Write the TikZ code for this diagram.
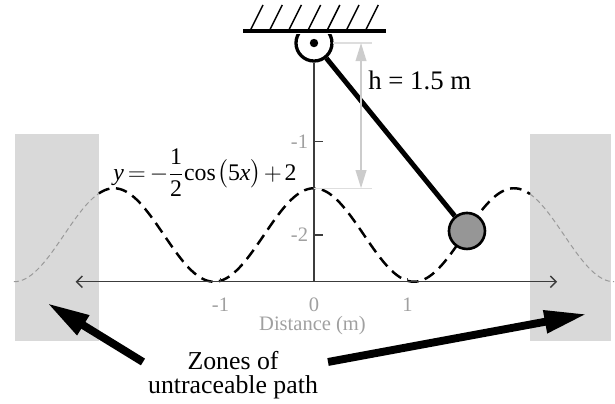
\documentclass[tikz,border=0pt]{standalone}
\usepackage{amsmath}
\usepackage{fontspec}
\setmainfont{Liberation Serif}
\definecolor{pdzone}{RGB}{217,217,217}
\definecolor{pddim}{RGB}{204,204,204}
\definecolor{pdext}{RGB}{222,222,222}
\definecolor{pdlabel}{RGB}{160,160,160}
\definecolor{pdbob}{RGB}{150,150,150}
\definecolor{pdaxis}{RGB}{60,60,60}
\usetikzlibrary{arrows.meta,positioning,calc}

\begin{document}
\begin{tikzpicture}[x=2cm,y=2cm,
  pdtick/.style={font=\fontsize{12.5}{14}\selectfont,text=pdlabel,inner sep=0pt},
  pdaxisline/.style={draw=pdaxis,line width=0.9pt},
  pdbig/.style={line width=4.8pt,-{Triangle[length=26pt,width=13pt]}},
  pdcurve/.style={line width=1.5pt,dash pattern=on 7pt off 4pt},
  pdghost/.style={draw=gray!80,line width=0.6pt,dash pattern=on 3pt off 2pt},
  pdball/.style={circle,draw=black,minimum size=0.77cm,inner sep=0pt}
]
  \useasboundingbox (-3.358,0.513) rectangle (3.219,-3.797);
  % untraceable zones
  \fill[pdzone] (-3.198,-0.92) rectangle (-2.30,-3.134);
  \fill[pdzone] (2.31,-0.92) rectangle (3.18,-3.134);
  % track y = -2 + 0.5 cos
  \draw[pdghost,domain=-3.21:-2.30,samples=30] plot (\x,{-2+0.5*cos(168.3*\x)});
  \draw[pdghost,domain=2.31:3.21,samples=30] plot (\x,{-2+0.5*cos(168.3*\x)});
  \draw[pdcurve,domain=-2.30:2.31,samples=160] plot (\x,{-2+0.5*cos(168.3*\x)});
  % axes
  \coordinate (xl) at (-2.55,-2.5);
  \coordinate (xr) at (2.60,-2.5);
  \coordinate (orig) at (0,-2.5);
  \draw[pdaxisline,{Straight Barb[length=3.5pt,width=7pt]}-{Straight Barb[length=3.5pt,width=7pt]}] (xl) -- (xr);
  \foreach \t in {-1,0,1} {
    \draw[pdaxisline] (\t,-2.5) -- ++(0,0.045);
    \node[pdtick] (xt\t) at (\t,-2.75) {\t};
  }
  \foreach \t in {1,2} {
    \draw[pdaxisline] (0,-\t) -- ++(0.1,0);
    \node[pdtick,anchor=east] (yt\t) at (-0.06,-\t) {-\t};
  }
  \node[pdtick] (xlab) at (-0.016,-2.97) {Distance (m)};
  % pivot and support
  \node[pdball,line width=2pt,fill=white] (pivot) at (0,0.053) {};
  \draw[pdaxisline] (pivot.south) -- (orig);
  \fill[white] (-0.8,0.15) rectangle (0.8,0.5);
  \foreach \k in {0,...,6}
    \draw[line width=0.9pt] ({-0.684+0.2053*\k},0.182) -- ++(0.139,0.278);
  \draw[line width=2.7pt] (-0.759,0.182) -- (0.770,0.182);
  \fill (pivot.center) circle (0.045);
  % pendulum
  \node[pdball,line width=1.6pt,fill=pdbob] (bob) at (1.636,-1.957) {};
  \draw[line width=3pt] (pivot) -- (bob);
  % height
  \coordinate (htop) at (0.503,0.053);
  \coordinate (hbot) at (0.503,-1.5);
  \draw[pdext,line width=0.8pt] (0.2,0.053) -- (0.62,0.053);
  \draw[pdext,line width=0.8pt] (0,-1.5) -- (0.62,-1.5);
  \draw[pddim,line width=1pt,{Triangle[length=11pt,width=6.5pt]}-{Triangle[length=11pt,width=6.5pt]}] (htop) -- (hbot);
  \node[anchor=west,inner sep=0pt,font=\fontsize{16.3}{18}\selectfont] (hlab) at (0.578,-0.348) {h = 1.5 m};
  % equation
  \node[font=\fontsize{14.5}{16}\selectfont,inner sep=0pt] (eqn) at (-1.166,-1.33)
    {$\textit{y}\mkern-2mu=\mkern-2mu-\dfrac{\text{1}}{\text{2}}\text{cos}\mkern1mu\big(\text{5}\textit{x}\big)\mkern-2mu+\mkern-2mu\text{2}$};
  % annotation
  \node[align=center,inner sep=0pt,font=\fontsize{15.7}{15}\selectfont] (zones) at (-0.866,-3.50)
    {Zones of\\untraceable path};
  \coordinate (ltip) at (-2.856,-2.727);
  \coordinate (ltail) at (-1.829,-3.358);
  \coordinate (rtip) at (2.92,-2.845);
  \coordinate (rtail) at (0.15,-3.358);
  \draw[pdbig] (ltail) -- (ltip);
  \draw[pdbig] (rtail) -- (rtip);
\end{tikzpicture}
\end{document}
